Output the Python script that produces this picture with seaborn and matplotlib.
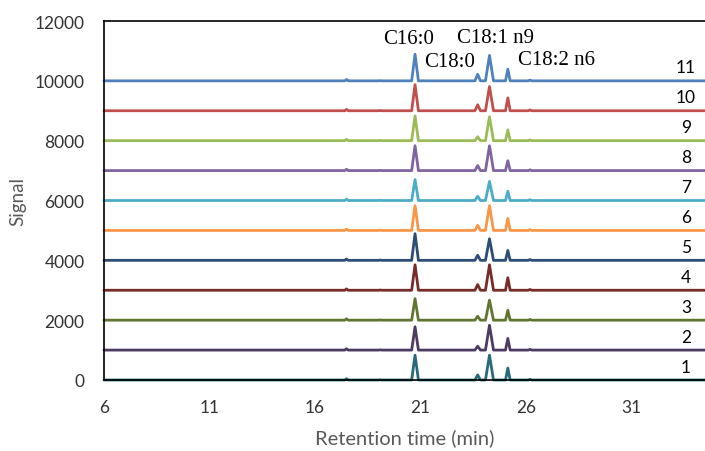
import numpy as np
import pandas as pd
import matplotlib
matplotlib.use("Agg")
import matplotlib.pyplot as plt
import seaborn as sns

# Samples, stacked bottom (1) to top (11), each offset by 1000 signal units
samples = ["1", "2", "3", "4", "5", "6", "7", "8", "9", "10", "11"]
offset_step = 1000

# Retention times (min) of the fatty-acid methyl ester peaks
peak_names = ["C16:0", "C18:0", "C18:1 n9", "C18:2 n6"]
peak_times = [20.75, 23.72, 24.28, 25.15]
peak_halfwidths = [0.16, 0.13, 0.19, 0.11]

# Peak heights per sample (columns follow peak_names)
heights_c16_0 = [830, 780, 720, 850, 890, 830, 700, 830, 830, 870, 890]
heights_c18_0 = [170, 130, 130, 190, 170, 170, 140, 170, 130, 200, 220]
heights_c18_1 = [830, 830, 670, 850, 720, 830, 640, 830, 800, 810, 850]
heights_c18_2 = [400, 390, 330, 420, 330, 400, 310, 330, 360, 430, 390]

# Minor peaks common to all runs
minor_times = [17.5, 19.1, 26.2]
minor_heights = [45, 8, 25]
minor_halfwidth = 0.08

# Run window
t_start, t_end = 6.0, 34.5

palette = ["#276A7C", "#4D3B62", "#5F7530", "#772C2A", "#2C4D75",
           "#F79646", "#4BACC6", "#8064A2", "#9BBB59", "#C0504D", "#4F81BD"]

# Build each trace from its peak list as baseline + triangular peaks
rows = []
for i, s in enumerate(samples):
    base = i * offset_step
    peaks = list(zip(peak_times,
                     [heights_c16_0[i], heights_c18_0[i], heights_c18_1[i], heights_c18_2[i]],
                     peak_halfwidths))
    peaks += [(t, h, minor_halfwidth) for t, h in zip(minor_times, minor_heights)]
    peaks.sort()
    pts = [(t_start, 0.0)]
    for t, h, w in peaks:
        pts += [(t - w, 0.0), (t, h), (t + w, 0.0)]
    pts.append((t_end, 0.0))
    for order, (t, v) in enumerate(pts):
        rows.append({"sample": s, "order": order, "time": t, "signal": v + base})
df = pd.DataFrame(rows)

sns.set_theme(style="white")
plt.rcParams["font.family"] = ["Lato", "DejaVu Sans"]

fig = plt.figure(figsize=(7.05, 4.52), dpi=100)
ax = fig.add_axes([104 / 705, 71 / 452, 1 - 104 / 705, 359 / 452])

sns.lineplot(data=df, x="time", y="signal", hue="sample", hue_order=samples,
             palette=palette, estimator=None, sort=False, units="sample",
             linewidth=2.0, legend=False, ax=ax)
for line in ax.get_lines():
    line.set_clip_on(False)

ax.set_xlim(6, t_end)
ax.set_ylim(0, 12000)
ax.set_xticks([6, 11, 16, 21, 26, 31])
ax.set_yticks(np.arange(0, 12001, 2000))
ax.tick_params(axis="both", length=0, labelsize=12.5, labelcolor="#333333")
ax.tick_params(axis="x", pad=14)
ax.tick_params(axis="y", pad=14)

ax.set_xlabel("Retention time (min)", fontsize=14.5, color="#595959", labelpad=9)
ax.set_ylabel("Signal", fontsize=13.5, color="#595959", labelpad=6)

for side in ["left", "top", "bottom"]:
    ax.spines[side].set_color("black")
    ax.spines[side].set_linewidth(1.2)
ax.spines["right"].set_visible(False)

# Peak labels
label_pos = {"C16:0": (20.45, 11400), "C18:0": (22.4, 10650),
             "C18:1 n9": (24.55, 11450), "C18:2 n6": (27.45, 10700)}
for name in peak_names:
    x, y = label_pos[name]
    ax.text(x, y, name, ha="center", va="center", fontsize=15,
            family=["Liberation Serif", "DejaVu Serif"], color="black")

# Sample numbers at the right end of each trace
for i, s in enumerate(samples):
    ax.text(33.6, i * offset_step + 450, s, ha="center", va="center",
            fontsize=12.5, color="black")

fig.savefig("out.png", dpi=100)
